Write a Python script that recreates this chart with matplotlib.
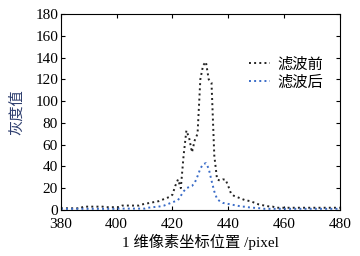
import numpy as np
import matplotlib
matplotlib.use("Agg")
import matplotlib.pyplot as plt

plt.rcParams['font.family'] = ['Liberation Serif', 'Noto Sans CJK SC', 'DejaVu Sans']

x_pixel = list(range(380, 481))

before = (
    [1.5] * 8 +            # 380-387
    [3] * 8 +              # 388-395
    [2.5] * 6 +            # 396-401
    [4] * 7 +              # 402-408
    [5, 5.5, 6, 6.5, 7, 7.5] +  # 409-414
    [8, 9, 10, 11, 12, 14, 22, 28, 20, 50,   # 415-424
     73, 66, 53, 64, 70, 120, 133, 136, 120, 117,  # 425-434
     50, 28, 27, 28, 28, 22, 15, 13, 12, 11,   # 435-444
     10, 9, 8.5, 8, 7, 6, 5, 4.5, 4, 3.5,      # 445-454
     3, 3] +                                   # 455-456
    [2] * 24               # 457-480
)

after = (
    [1] * 21 +             # 380-400
    [1.2] * 10 +           # 401-410
    [2, 2.2, 2.5, 2.8, 3] +  # 411-415
    [3.5, 4, 5, 6, 7, 8, 9, 13, 17, 20,        # 416-425
     21, 22, 25, 31, 38, 42, 43, 38, 27, 17,   # 426-435
     10, 8, 6.5, 6, 5.5, 5, 4.5, 4, 3.5, 3,    # 436-445
     3, 2.5, 2.2, 2, 1.8, 1.6, 1.4] +          # 446-452
    [1] * 28               # 453-480
)

labels = ['滤波前', '滤波后']
colors = ['#222222', '#3a6cc8']

fig = plt.figure(figsize=(3.6, 2.56), dpi=100)
ax = fig.add_axes([0.169, 0.18, 0.775, 0.765])

ax.plot(x_pixel, before, linestyle=':', color=colors[0], lw=1.4, label=labels[0])
ax.plot(x_pixel, after, linestyle=':', color=colors[1], lw=1.4, label=labels[1])

ax.set_xlim(380, 480)
ax.set_ylim(0, 180)
ax.set_xticks(range(380, 481, 20))
ax.set_yticks(range(0, 181, 20))
ax.tick_params(direction='in', top=True, right=True, labelsize=11, length=3, width=0.8)
ax.tick_params(axis='x', pad=6)
ax.tick_params(axis='y', pad=2)
for s in ax.spines.values():
    s.set_linewidth(0.8)

ax.set_xlabel('1 维像素坐标位置 /pixel', fontsize=11, labelpad=2)
ax.set_ylabel('灰度值', fontsize=11, color='#2f3f6f', labelpad=8)

leg = ax.legend(loc='upper right', bbox_to_anchor=(0.99, 0.86), frameon=False,
                handlelength=1.4, handletextpad=0.5, labelspacing=0.1,
                prop={'family': ['Noto Sans CJK SC'], 'size': 11})

fig.savefig('out.png', dpi=100)
